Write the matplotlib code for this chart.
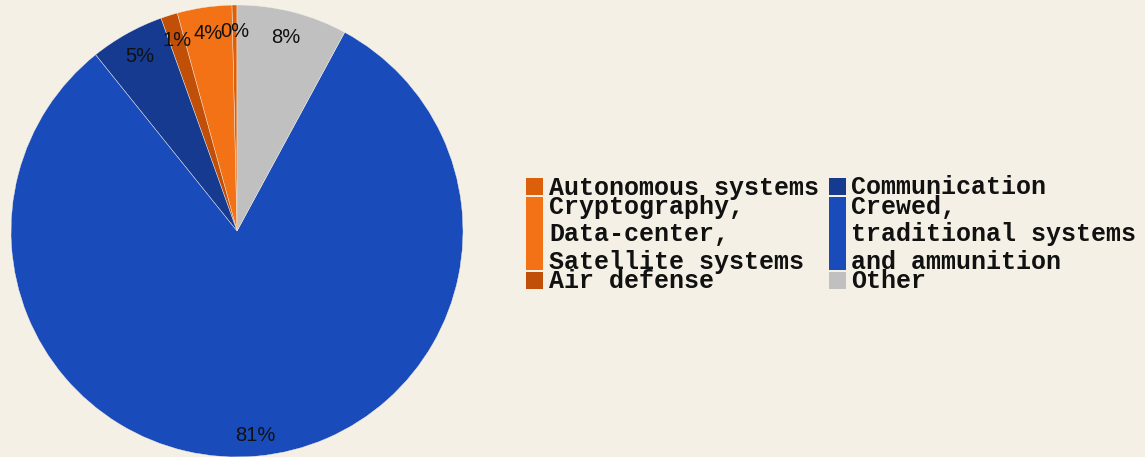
import matplotlib
matplotlib.use("Agg")
import matplotlib.pyplot as plt
import numpy as np
from matplotlib.patches import Rectangle

# Share of spending by category (percent)
categories = [
    "Autonomous systems",
    "Cryptography,\nData-center,\nSatellite systems",
    "Air defense",
    "Communication",
    "Crewed,\ntraditional systems\nand ammunition",
    "Other",
]
shares = [0.36, 3.9, 1.2, 5.3, 81.3, 7.9]
colors = ["#dc600b", "#f47216", "#c24f08", "#153a8f", "#1a4bbb", "#c0c0c0"]

BG = "#f5f0e6"
W, H = 1145, 457

fig = plt.figure(figsize=(W / 100, H / 100), dpi=100, facecolor=BG)

# pie axes placed in pixel terms: center (237, 231), radius 226
cx, cy, r = 237, 231, 226
ax = fig.add_axes([(cx - r) / W, (H - cy - r) / H, 2 * r / W, 2 * r / H])
ax.set_facecolor(BG)
wedges, texts, autotexts = ax.pie(
    shares, colors=colors, startangle=90, counterclock=True,
    autopct="%.0f%%", pctdistance=0.885, radius=1,
    wedgeprops=dict(edgecolor=BG, linewidth=0.3),
    textprops=dict(family=["Liberation Sans", "DejaVu Sans"], fontsize=14.5, color="#111111"),
)
# the big slice's label sits a bit further out
big = int(np.argmax(shares))
w = wedges[big]
mid = np.deg2rad((w.theta1 + w.theta2) / 2)
autotexts[big].set_position((0.91 * np.cos(mid), 0.91 * np.sin(mid)))

ax.set_xlim(-1, 1)
ax.set_ylim(-1, 1)
ax.axis("off")

# legend drawn by hand, two columns, column-first order
col_swatch_x = [526, 829]
col_text_x = [549, 851]
sw_w = 17
line_h = 27.5
n_rows = 3

def px(x, y):
    return x / W, 1 - y / H

top = 178
for row in range(n_rows):
    idx = [row, row + n_rows]
    n_lines = max(len(categories[i].split("\n")) for i in idx)
    sw_h = 17 + (n_lines - 1) * line_h
    for col, i in enumerate(idx):
        x0, y0 = px(col_swatch_x[col], top + sw_h)
        fig.patches.append(Rectangle((x0, y0), sw_w / W, sw_h / H,
                                     transform=fig.transFigure,
                                     facecolor=colors[i], edgecolor="none"))
        for k, line in enumerate(categories[i].split("\n")):
            tx, ty = px(col_text_x[col], top + 16.5 + k * line_h)
            fig.text(tx, ty, line, family=["Liberation Mono", "DejaVu Sans Mono"],
                     weight="bold", fontsize=18, va="baseline", ha="left",
                     color="#111111")
    top += sw_h + 2.5

fig.savefig("out.png", dpi=100, facecolor=BG)
